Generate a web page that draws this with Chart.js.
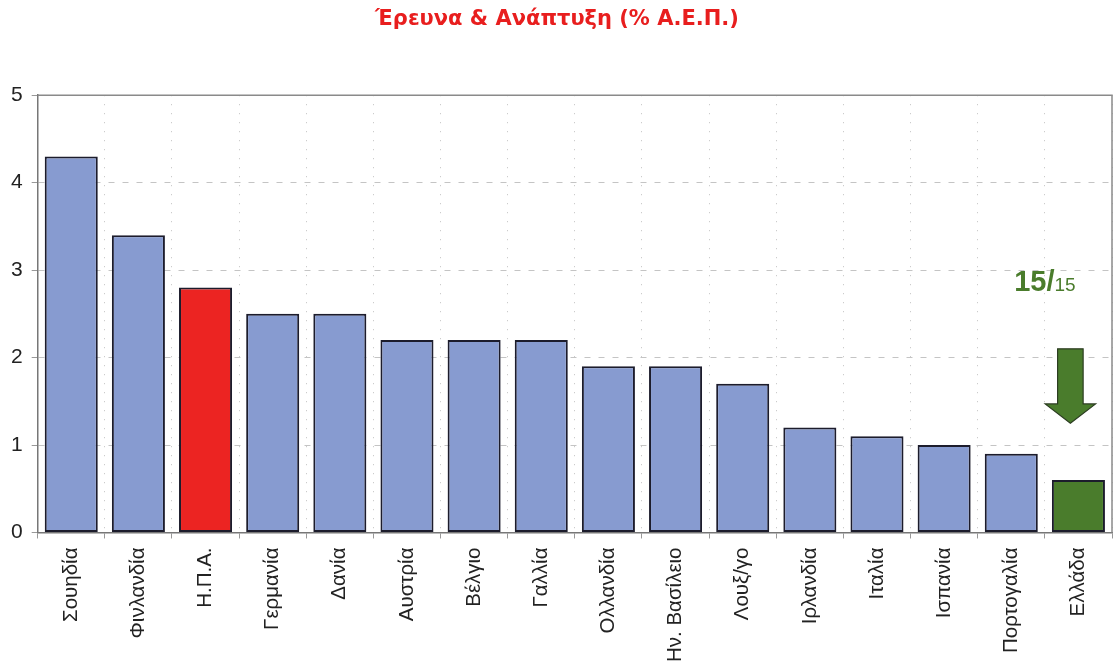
<!DOCTYPE html>
<html>
<head>
<meta charset="utf-8">
<script src="https://cdn.jsdelivr.net/npm/chart.js@4"></script>
<style>
  body { margin: 0; background: #fff; }
  #wrap { width: 1113px; height: 666px; }
</style>
</head>
<body>
<div id="wrap"><canvas id="chartRnd"></canvas></div>
<script>
// χώρες και δαπάνες Ε&Α (% ΑΕΠ)
const countries = ['Σουηδία', 'Φινλανδία', 'Η.Π.Α.', 'Γερμανία', 'Δανία', 'Αυστρία', 'Βέλγιο', 'Γαλλία',
  'Ολλανδία', 'Ην. Βασίλειο', 'Λουξ/γο', 'Ιρλανδία', 'Ιταλία', 'Ισπανία', 'Πορτογαλία', 'Ελλάδα'];
const rndValues = [4.3, 3.4, 2.8, 2.5, 2.5, 2.2, 2.2, 2.2, 1.9, 1.9, 1.7, 1.2, 1.1, 1.0, 0.9, 0.6];
const yTicks = [0, 1, 2, 3, 4, 5];

// βέλος και κατάταξη πάνω από την Ελλάδα (τιμές άξονα y)
const rankText = ['15/', '15'];
const rankPos = [14.5, 2.87];         // [κατηγορία, τιμή]
const arrowY = [2.1, 1.47, 1.25];     // κορυφή στελέχους, αρχή αιχμής, μύτη

const blue = 'rgb(135,155,208)';
const red = 'rgb(236,36,34)';
const green = 'rgb(74,124,44)';

function barColor(ctx) {
  const name = countries[ctx.dataIndex];
  if (name === 'Η.Π.Α.') return red;
  if (name === 'Ελλάδα') return green;
  return blue;
}

const extras = {
  id: 'extras',
  afterDraw(chart) {
    const ctx = chart.ctx;
    const a = chart.chartArea;
    const x = chart.scales.x;
    const y = chart.scales.y;
    // πλαίσιο
    ctx.save();
    ctx.strokeStyle = '#8a8a8a';
    ctx.lineWidth = 1.5;
    ctx.beginPath();
    ctx.moveTo(a.left, a.top);
    ctx.lineTo(a.right, a.top);
    ctx.lineTo(a.right, a.bottom);
    ctx.stroke();

    // βέλος
    const step = x.getPixelForValue(1) - x.getPixelForValue(0);
    const cx = x.getPixelForValue(countries.length - 1) - step * 0.12;
    const sw = step * 0.19, hw = step * 0.375;
    const yTop = y.getPixelForValue(arrowY[0]);
    const yHead = y.getPixelForValue(arrowY[1]);
    const yTip = y.getPixelForValue(arrowY[2]);
    ctx.beginPath();
    ctx.moveTo(cx - sw, yTop);
    ctx.lineTo(cx + sw, yTop);
    ctx.lineTo(cx + sw, yHead);
    ctx.lineTo(cx + hw, yHead);
    ctx.lineTo(cx, yTip);
    ctx.lineTo(cx - hw, yHead);
    ctx.lineTo(cx - sw, yHead);
    ctx.closePath();
    ctx.fillStyle = green;
    ctx.fill();
    ctx.strokeStyle = '#2c3d22';
    ctx.lineWidth = 1.2;
    ctx.stroke();

    // 15/15
    const tx = x.getPixelForValue(rankPos[0]);
    const ty = y.getPixelForValue(rankPos[1]);
    const bigFont = 'bold 29px "Liberation Sans", Arial, sans-serif';
    const smallFont = '19px "Liberation Sans", Arial, sans-serif';
    ctx.fillStyle = green;
    ctx.textAlign = 'left';
    ctx.font = bigFont;
    const w1 = ctx.measureText(rankText[0]).width;
    ctx.font = smallFont;
    const w2 = ctx.measureText(rankText[1]).width;
    const start = tx - (w1 + w2) / 2;
    ctx.textBaseline = 'alphabetic';
    ctx.font = bigFont;
    ctx.fillText(rankText[0], start, ty + 10);
    ctx.font = smallFont;
    ctx.fillText(rankText[1], start + w1, ty + 10);
    ctx.restore();
  }
};

const config = {
  type: 'bar',
  data: {
    labels: countries,
    datasets: [{
      data: rndValues,
      backgroundColor: barColor,
      borderColor: '#1c1c2c',
      borderWidth: 2,
      borderSkipped: false,
      categoryPercentage: 0.79,
      barPercentage: 1
    }]
  },
  options: {
    responsive: true,
    maintainAspectRatio: false,
    animation: false,
    layout: { padding: { left: 2, right: 1, top: 0, bottom: -5 } },
    plugins: {
      legend: { display: false },
      tooltip: { enabled: false },
      title: {
        display: true,
        text: 'Έρευνα & Ανάπτυξη (% Α.Ε.Π.)',
        color: 'rgb(232,30,30)',
        font: { family: '"DejaVu Sans", sans-serif', size: 21, weight: 'bold' },
        padding: { top: 7, bottom: 63 }
      }
    },
    scales: {
      x: {
        grid: {
          offset: true,
          color: '#c0c0c0',
          lineWidth: 1,
          tickLength: 6,
          tickColor: '#999',
          tickBorderDash: []
        },
        border: { display: true, color: '#777', width: 1.5, dash: [1, 8] },
        ticks: {
          color: '#222',
          font: { family: '"Liberation Sans", Arial, sans-serif', size: 20.5 },
          minRotation: 90,
          maxRotation: 90,
          autoSkip: false,
          padding: 9
        }
      },
      y: {
        min: 0,
        max: 5,
        afterBuildTicks(axis) { axis.ticks = yTicks.map(v => ({ value: v })); },
        grid: {
          color: (c) => (c.tick && (c.tick.value === 0 || c.tick.value === 5)) ? 'rgba(0,0,0,0)' : '#c4c4c4',
          lineWidth: 1,
          tickLength: 6,
          tickColor: '#999',
          tickBorderDash: []
        },
        border: { display: true, color: '#777', width: 1.5, dash: [6, 8] },
        ticks: {
          color: '#222',
          font: { family: '"Liberation Sans", Arial, sans-serif', size: 21 },
          padding: 9
        }
      }
    }
  },
  plugins: [extras]
};

const chartRnd = new Chart(document.getElementById('chartRnd'), config);
</script>
</body>
</html>
